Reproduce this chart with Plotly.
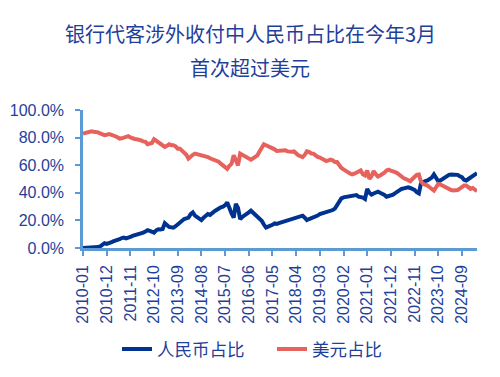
import plotly.graph_objects as go

months = [f"{y}-{m:02d}" for y in range(2010, 2026) for m in range(1, 13)][:184]

cny_share = [
    # 2010
    0.0, 0.0, 0.1, 0.1, 0.2, 0.3, 0.5, 0.7, 1.2, 2.0, 3.5, 3.0,
    # 2011
    3.2, 4.0, 4.8, 5.2, 5.8, 6.4, 7.2, 7.5, 7.0, 7.3, 8.0, 8.8,
    # 2012
    9.2, 9.8, 10.0, 10.6, 11.2, 12.0, 12.9, 12.4, 11.6, 11.2, 12.8, 13.6,
    # 2013
    13.4, 13.8, 18.0, 16.5, 15.3, 15.0, 14.8, 15.8, 17.3, 18.5, 20.0, 21.0,
    # 2014
    21.5, 22.0, 24.5, 25.8, 23.5, 22.6, 21.5, 20.2, 22.0, 23.5, 24.6, 24.0,
    # 2015
    25.8, 26.5, 27.5, 29.0, 29.5, 30.0, 31.0, 33.0, 28.0, 25.0, 22.0, 32.0,
    # 2016
    29.0, 21.0, 22.5, 23.4, 24.5, 25.8, 27.0, 25.5, 24.0, 23.4, 21.5, 19.7,
    # 2017
    17.0, 14.8, 15.5, 16.0, 16.8, 17.8, 17.5, 18.0, 18.5, 19.0, 19.7, 20.5,
    # 2018
    21.0, 21.5, 21.8, 22.0, 22.5, 23.0, 23.4, 22.0, 20.2, 21.0, 21.5, 22.0,
    # 2019
    22.5, 23.5, 24.5, 25.0, 25.5, 25.8, 26.0, 27.0, 27.5, 28.5, 30.7, 33.5,
    # 2020
    36.0, 36.7, 37.0, 37.2, 37.5, 37.8, 38.0, 38.3, 37.2, 37.0, 36.5, 35.5,
    # 2021
    42.8, 40.0, 38.7, 39.5, 40.4, 40.8, 40.0, 39.6, 38.5, 37.2, 37.5, 38.0,
    # 2022
    38.7, 39.8, 41.1, 42.0, 42.8, 43.2, 43.5, 44.0, 43.5, 42.8, 42.1, 40.5,
    # 2023
    39.6, 47.0, 48.0, 48.5, 48.9, 50.0, 51.0, 53.3, 51.0, 48.4, 49.0, 50.1,
    # 2024
    51.5, 52.6, 53.0, 53.3, 53.3, 53.3, 53.0, 52.0, 51.3, 49.5, 48.9, 50.0,
    # 2025
    50.9, 52.0, 53.0, 54.2,
]

usd_share = [
    # 2010
    83.0, 83.5, 84.0, 84.7, 84.5, 84.2, 84.2, 83.8, 83.0, 82.2, 81.8, 82.0,
    # 2011
    82.5, 82.2, 81.8, 81.0, 80.2, 79.3, 79.5, 80.0, 80.5, 81.0, 80.2, 79.3,
    # 2012
    79.0, 78.8, 78.6, 78.0, 77.2, 76.9, 75.2, 75.8, 76.1, 78.8, 77.5, 76.9,
    # 2013
    75.5, 74.5, 73.2, 74.0, 75.2, 74.5, 74.5, 73.7, 72.0, 72.0, 70.5, 69.6,
    # 2014
    67.5, 64.7, 66.4, 67.5, 68.4, 68.0, 67.8, 67.2, 67.0, 66.5, 65.9, 65.0,
    # 2015
    64.5, 63.5, 63.0, 62.5, 61.1, 60.0, 58.5, 57.4, 59.5, 61.0, 67.2, 63.0,
    # 2016
    59.9, 68.4, 67.5, 66.4, 65.5, 64.7, 64.0, 65.0, 66.4, 67.2, 70.0, 73.2,
    # 2017
    75.2, 74.5, 73.8, 73.2, 72.8, 71.5, 70.3, 70.5, 70.8, 70.8, 70.8, 70.0,
    # 2018
    69.6, 69.8, 70.0, 68.4, 67.2, 66.5, 65.9, 67.5, 70.0, 69.6, 68.5, 68.4,
    # 2019
    67.0, 66.0, 65.5, 64.7, 63.5, 63.0, 63.5, 64.0, 63.5, 62.3, 62.3, 59.9,
    # 2020
    58.0, 57.0, 55.5, 55.0, 54.0, 53.3, 53.8, 54.5, 55.0, 56.2, 53.5, 52.6,
    # 2021
    56.2, 50.1, 52.0, 55.7, 53.5, 51.8, 52.5, 53.3, 54.5, 56.2, 56.7, 56.0,
    # 2022
    55.7, 55.0, 54.2, 53.0, 51.3, 50.5, 50.0, 49.4, 48.4, 50.0, 51.3, 53.0,
    # 2023
    53.3, 48.0, 46.5, 46.0, 45.2, 44.0, 42.5, 41.6, 44.0, 46.5, 46.0, 45.2,
    # 2024
    44.0, 42.8, 42.5, 42.0, 41.6, 41.6, 42.0, 43.0, 44.0, 45.2, 45.2, 44.0,
    # 2025
    42.8, 43.5, 42.0, 41.1,
]

tick_labels = months[::11]
series_names = ["人民币占比", "美元占比"]
title_lines = ["银行代客涉外收付中人民币占比在今年3月", "首次超过美元"]

TXT = "#1f3f9a"
AX = "#5b9bd5"
CJK = "Noto Sans CJK SC"
LAT = "Liberation Sans, Arial"

fig = go.Figure()
fig.add_trace(go.Scatter(x=months, y=cny_share, mode="lines", name=series_names[0],
                         line=dict(color="#00338f", width=4)))
fig.add_trace(go.Scatter(x=months, y=usd_share, mode="lines", name=series_names[1],
                         line=dict(color="#e8625d", width=4)))

fig.update_layout(
    width=500, height=377,
    margin=dict(l=83, r=23, t=110, b=129, autoexpand=False),
    paper_bgcolor="white", plot_bgcolor="white",
    showlegend=True,
    legend=dict(orientation="h", xref="container", yref="container",
                x=0.234, xanchor="left", y=0.074, yanchor="middle",
                font=dict(family=CJK, size=17.5, color=TXT),
                entrywidth=110, entrywidthmode="pixels", tracegroupgap=0),
    annotations=[
        dict(text=title_lines[0], xref="paper", yref="paper", x=0.4239, y=1.553,
             xanchor="center", yanchor="middle", showarrow=False,
             font=dict(family=CJK, size=20, color=TXT)),
        dict(text=title_lines[1], xref="paper", yref="paper", x=0.4239, y=1.306,
             xanchor="center", yanchor="middle", showarrow=False,
             font=dict(family=CJK, size=20, color=TXT)),
    ],
)

fig.update_xaxes(
    type="category", categoryorder="array", categoryarray=months,
    range=[0, len(months) - 1], automargin=False,
    tickmode="array", tickvals=tick_labels, ticktext=tick_labels,
    tickangle=-90, tickfont=dict(family=LAT, size=16, color=TXT),
    ticklabelstandoff=3,
    showline=True, linecolor=AX, linewidth=2.5,
    ticks="outside", ticklen=5, tickcolor=AX, tickwidth=2,
    showgrid=False, zeroline=False,
)
fig.update_yaxes(
    range=[0, 100], dtick=20, tickformat=".1f", ticksuffix="%", automargin=False,
    tickfont=dict(family=LAT, size=16, color=TXT),
    ticklabelstandoff=8,
    showline=True, linecolor=AX, linewidth=2.5,
    ticks="outside", ticklen=5, tickcolor=AX, tickwidth=2,
    showgrid=False, zeroline=False,
)

fig.write_html("out.html", config={"displayModeBar": False},
               post_script="document.body.style.margin='0';")
